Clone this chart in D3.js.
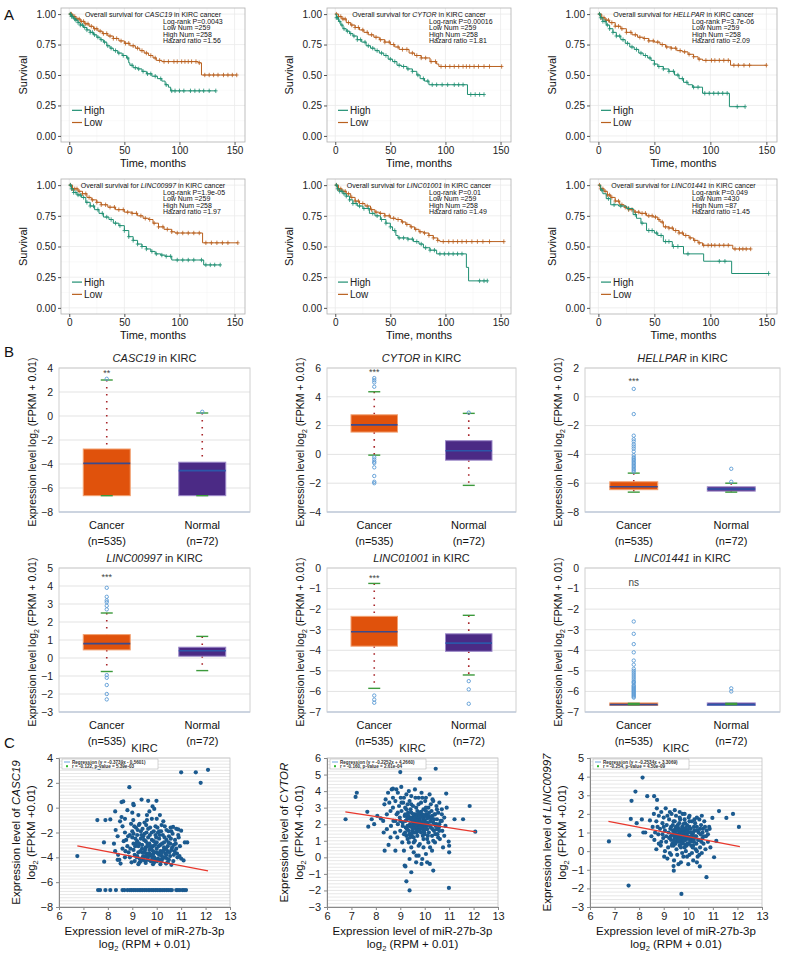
<!DOCTYPE html>
<html><head><meta charset="utf-8">
<script src="https://cdn.jsdelivr.net/npm/d3@7"></script>
<style>body{margin:0;background:#fff}svg text{font-family:"Liberation Sans",Arial,Helvetica,sans-serif}</style>
</head><body>
<svg id="c" width="798" height="954"></svg>
<script>
// ================= DATA =================
const kmGenes = ["CASC19","CYTOR","HELLPAR","LINC00997","LINC01001","LINC01441"];
const kmPvals = ["0.0043","0.00016","3.7e-06","1.9e-05","0.01","0.049"];
const kmLowNum = [259,259,259,259,259,430];
const kmHighNum = [258,258,258,258,258,87];
const kmHR = ["1.56","1.81","2.09","1.97","1.49","1.45"];
const kmXTicks = [0,50,100,150];
const kmYTicks = [0,0.25,0.5,0.75,1];

const kmHigh1 = [[0,1],[2,0.98],[4,0.96],[6,0.95],[8,0.93],[10,0.91],[13,0.89],[16,0.87],[19,0.85],[22,0.83],[25,0.81],[28,0.79],[31,0.77],[34,0.74],[37,0.72],[40,0.70],[44,0.68],[48,0.66],[52,0.64],[54,0.60],[55,0.58],[58,0.56],[62,0.55],[66,0.53],[70,0.51],[75,0.49],[80,0.47],[84,0.45],[87,0.42],[90,0.40],[92,0.37]];
const kmLow1 = [[0,1],[3,0.98],[6,0.96],[10,0.94],[14,0.92],[18,0.90],[22,0.88],[26,0.86],[30,0.84],[35,0.82],[40,0.80],[45,0.78],[50,0.76],[55,0.74],[60,0.72],[64,0.70],[68,0.68],[72,0.66],[76,0.64],[79,0.62],[84,0.61],[117,0.60],[120,0.50]];
const kmHigh2 = [[0,1],[1,0.97],[3,0.94],[5,0.91],[7,0.88],[10,0.86],[13,0.84],[16,0.82],[20,0.79],[24,0.77],[28,0.74],[32,0.72],[36,0.70],[40,0.68],[44,0.66],[48,0.63],[52,0.61],[56,0.58],[60,0.57],[65,0.55],[70,0.53],[74,0.50],[77,0.47],[81,0.45],[85,0.42],[120,0.34]];
const kmLow2 = [[0,1],[3,0.98],[6,0.96],[10,0.93],[14,0.91],[18,0.89],[22,0.87],[26,0.85],[30,0.83],[35,0.81],[40,0.79],[45,0.77],[50,0.75],[54,0.73],[58,0.71],[67,0.68],[72,0.66],[78,0.64],[86,0.61],[92,0.59],[94,0.57]];
const kmHigh3 = [[0,1],[2,0.97],[4,0.94],[7,0.91],[10,0.88],[13,0.85],[16,0.82],[20,0.79],[24,0.76],[28,0.73],[32,0.71],[36,0.68],[40,0.66],[44,0.64],[47,0.62],[50,0.59],[53,0.57],[58,0.55],[63,0.53],[68,0.50],[72,0.47],[76,0.44],[80,0.42],[84,0.40],[93,0.35],[117,0.24]];
const kmLow3 = [[0,1],[3,0.97],[6,0.95],[10,0.93],[15,0.90],[20,0.88],[25,0.85],[30,0.83],[35,0.81],[40,0.80],[45,0.78],[50,0.77],[55,0.75],[60,0.73],[65,0.72],[70,0.70],[75,0.69],[80,0.67],[85,0.65],[89,0.63],[93,0.62],[118,0.58]];
const kmHigh4 = [[0,1],[2,0.97],[4,0.94],[7,0.92],[11,0.90],[15,0.86],[19,0.83],[23,0.80],[27,0.77],[31,0.74],[36,0.72],[40,0.69],[45,0.67],[50,0.63],[54,0.58],[58,0.55],[62,0.52],[66,0.50],[70,0.48],[74,0.46],[78,0.44],[83,0.43],[87,0.42],[93,0.39],[122,0.35]];
const kmLow4 = [[0,1],[3,0.97],[8,0.95],[12,0.93],[16,0.90],[20,0.88],[25,0.86],[29,0.84],[35,0.82],[42,0.80],[50,0.78],[57,0.77],[62,0.75],[67,0.73],[72,0.72],[76,0.69],[81,0.66],[86,0.64],[93,0.62],[96,0.61],[121,0.53]];
const kmHigh5 = [[0,1],[2,0.97],[4,0.95],[7,0.93],[10,0.91],[13,0.88],[16,0.85],[20,0.83],[25,0.81],[31,0.77],[36,0.75],[41,0.72],[46,0.69],[50,0.66],[52,0.63],[55,0.59],[57,0.57],[66,0.56],[71,0.54],[76,0.52],[80,0.49],[86,0.47],[92,0.44],[119,0.33],[121,0.22]];
const kmLow5 = [[0,1],[3,0.97],[6,0.95],[10,0.93],[14,0.90],[18,0.87],[22,0.85],[27,0.83],[32,0.80],[36,0.78],[40,0.77],[45,0.75],[50,0.73],[55,0.72],[60,0.70],[64,0.68],[68,0.66],[72,0.64],[76,0.62],[80,0.61],[85,0.59],[89,0.57],[93,0.55],[95,0.54]];
const kmHigh6 = [[0,1],[2,0.96],[4,0.93],[7,0.89],[11,0.84],[18,0.83],[25,0.81],[31,0.76],[34,0.73],[38,0.69],[43,0.63],[50,0.61],[53,0.59],[58,0.54],[66,0.50],[76,0.44],[94,0.38],[119,0.28]];
const kmLow6 = [[0,1],[2,0.97],[5,0.95],[8,0.92],[11,0.90],[15,0.87],[19,0.84],[23,0.82],[27,0.80],[32,0.78],[37,0.77],[43,0.75],[49,0.74],[53,0.72],[55,0.70],[58,0.66],[63,0.65],[67,0.63],[72,0.61],[76,0.59],[81,0.57],[85,0.55],[89,0.53],[93,0.51],[120,0.48]];
const kmHighEnd = [133,135,131,137,138,152];
const kmLowEnd = [152,151,150,153,153,136];

const cenHigh1 = [1,2,3,5,6,8,10,12,14,16,19,21,23,26,29,32,35,38,42,45,49,53,57,60,63,67,71,74,78,83,88,93,96,100,104,110,114,118,122,127,133];
const cenLow1 = [1,2,4,5,7,9,11,13,15,17,20,23,25,28,31,34,37,40,43,47,51,54,58,62,66,70,74,78,82,86,90,95,98,102,105,108,111,115,118,123,127,131,135,140,144,148,152];
const cenHigh2 = [1,2,4,6,8,11,14,17,20,23,27,30,34,38,42,46,50,54,58,62,66,70,75,80,84,88,92,97,102,108,112,116,123,127,131,135];
const cenLow2 = [1,3,5,7,9,12,15,18,21,25,29,33,37,41,45,49,53,57,61,65,70,74,78,82,87,91,96,100,104,108,112,116,119,122,126,130,135,140,151];
const cenHigh3 = [1,2,4,6,8,10,13,16,19,22,26,30,34,38,42,46,50,54,58,63,67,71,75,79,85,89,95,99,103,107,111,115,124,131];
const cenLow3 = [1,3,5,7,9,12,15,18,21,25,29,33,37,41,45,49,53,57,61,65,69,73,77,81,85,90,96,101,104,108,112,116,121,125,130,135,150];
const cenHigh4 = [1,2,4,6,8,10,13,16,19,22,26,30,34,38,42,46,50,54,58,62,66,70,75,79,84,88,92,98,103,108,113,120,124,128,132,137];
const cenLow4 = [1,3,5,7,9,12,15,18,21,25,29,33,37,41,45,49,53,57,61,65,69,73,77,81,85,89,93,98,103,108,113,118,124,129,134,139,144,153];
const cenHigh5 = [1,2,4,6,8,10,13,16,19,22,26,30,34,38,42,46,50,54,58,62,66,70,74,78,82,86,90,95,99,103,107,111,115,131,135,138];
const cenLow5 = [1,3,5,7,9,12,15,18,21,25,29,33,37,41,45,49,53,57,61,65,69,73,77,81,85,89,93,98,103,107,111,115,119,124,129,134,140,153];
const cenHigh6 = [3,9,14,20,27,33,39,45,48,52,56,60,63,67,71,80,108,113,152];
const cenLow6 = [1,2,4,6,8,10,12,15,18,21,24,27,30,33,36,39,42,45,48,51,54,57,60,63,66,69,72,75,78,82,86,90,94,98,101,104,108,112,116,122,126,129,132,136];

// Box plots (panel B): [lower whisker, Q1, median, Q3, upper whisker]
const boxGenes = ["CASC19","CYTOR","HELLPAR","LINC00997","LINC01001","LINC01441"];
const boxGroups = ["Cancer","Normal"];
const boxGroupN = ["(n=535)","(n=72)"];
const boxYDomain = [[-8,4],[-4,6],[-8,2],[-3,5],[-7,0],[-7,0]];
const boxYTicks = [[-8,-6,-4,-2,0,2,4],[-4,-2,0,2,4,6],[-8,-6,-4,-2,0,2],[-3,-2,-1,0,1,2,3,4,5],[-7,-6,-5,-4,-3,-2,-1,0],[-7,-6,-5,-4,-3,-2,-1,0]];
const cancerStats = [[-6.64,-6.64,-3.95,-2.75,3.0],[-0.05,1.55,2.05,2.75,4.35],[-6.62,-6.45,-6.25,-5.9,-5.3],[-0.75,0.45,0.8,1.3,2.5],[-5.85,-3.8,-3.1,-2.35,-0.75],[-6.64,-6.64,-6.64,-6.6,-6.58]];
const normalStats = [[-6.64,-6.64,-4.55,-3.85,0.25],[-2.15,-0.4,0.25,0.95,2.85],[-6.62,-6.55,-6.4,-6.25,-6.0],[-0.7,0.1,0.4,0.6,1.2],[-5.2,-4.05,-3.65,-3.2,-2.3],[-6.64,-6.64,-6.64,-6.6,-6.58]];
const cancerOutliers = [
  [3.1],
  [4.7,5.0,5.15,5.3,-0.2,-0.35,-0.5,-0.6,-0.9,-1.5,-1.9,-2.0],
  [-5.2,-5.1,-5.0,-4.9,-4.8,-4.7,-4.6,-4.5,-4.4,-4.3,-4.2,-4.05,-3.8,-3.6,-3.45,-3.3,-3.1,-2.95,-2.7,-1.2,0.55],
  [2.7,2.9,3.1,3.2,3.4,3.9,-0.95,-1.1,-1.5,-2.0,-2.3],
  [-6.2,-6.4,-6.55],
  [-2.6,-3.2,-3.7,-4.1,-4.5,-4.7,-4.9,-5.0,-5.1,-5.2,-5.3,-5.4,-5.5,-5.55,-5.6,-5.7,-5.75,-5.8,-5.85,-5.9,-5.95,-6.0,-6.05,-6.1,-6.15,-6.2,-6.25,-6.3]
];
const normalOutliers = [[0.35],[2.9],[-5.9,-5.0],[],[-5.5,-5.9,-6.6],[-5.85,-6.0]];
const boxSig = ["**","***","***","***","***","ns"];
const boxSigY = [3.55,5.7,1.1,4.5,-0.5,-0.75];

// Scatter plots (panel C)
const scGenes = ["CASC19","CYTOR","LINC00997"];
const scYDomain = [[-8,4],[-3,6],[-3,5]];
const scYTicks = [[-8,-6,-4,-2,0,2,4],[-3,-2,-1,0,1,2,3,4,5,6],[-3,-2,-1,0,1,2,3,4,5]];
const scXTicks = [6,7,8,9,10,11,12,13];
const scSlope = [-0.3739,-0.2252,-0.2534];
const scIntercept = [-0.5601,4.2660,3.3069];
const scRegText = ["Regression (y = -0.3739x - 0.5601)","Regression (y = -0.2252x + 4.2660)","Regression (y = -0.2534x + 3.3069)"];
const scRText = ["r = -0.122, p-value = 5.39e-03","r = -0.160, p-value = 2.61e-04","r = -0.254, p-value = 4.50e-09"];
const scLineX = [6.75,12.1];

const casc19Pts = [[6.75,-3.9],[7.64,3.2],[7.57,-1.0],[7.9,-1.0],[8.1,-0.95],[7.84,-2.8],[7.85,-4.35],[8.88,1.65],[11.0,2.85],[11.6,2.85],[12.1,3.05],[11.8,2.0],
[8.56,0.45],[8.63,0.5],[9.04,0.3],[9.06,0.2],[9.38,0.65],[9.65,0.55],[9.99,0.55],[9.83,0.1],[9.9,-0.1],[9.6,-0.6],[9.8,-0.9],[10.13,-0.6],[8.3,-0.3],[8.56,-0.75],[8.7,-0.9],[9.04,-1.0],[9.25,-0.6],[10.27,-1.1],[10.57,-1.6],[10.67,-1.55],[10.88,-1.75],[11.0,-1.85],[11.15,-2.8],[11.25,-2.8],[11.0,-4.1],[11.1,-4.25],
[8.32,-1.8],[8.4,-2.3],[8.25,-2.9],[8.3,-3.5],[8.42,-3.8],[8.47,-4.2],[8.52,-4.5],[8.4,-4.2],
[8.6,-1.5],[8.7,-2.0],[8.75,-2.6],[8.8,-3.1],[8.85,-3.6],[8.9,-4.0],[8.95,-1.3],[9.0,-1.9],[9.0,-2.4],[9.05,-2.9],[9.05,-3.4],[9.1,-3.8],[9.1,-4.3],[9.15,-1.6],[9.2,-2.2],[9.2,-2.7],[9.25,-3.1],[9.25,-3.6],[9.3,-4.1],[9.3,-4.4],[9.35,-1.9],[9.35,-2.5],[9.4,-3.0],[9.4,-3.3],[9.45,-3.9],[9.45,-4.2],[9.5,-1.2],[9.5,-2.1],[9.55,-2.7],[9.55,-3.2],[9.6,-3.7],[9.6,-4.0],[9.65,-1.7],[9.65,-2.4],[9.7,-2.9],[9.7,-3.4],[9.75,-3.8],[9.75,-4.3],[9.8,-2.0],[9.8,-2.6],[9.85,-3.1],[9.85,-3.5],[9.9,-4.0],[9.9,-4.4],[9.95,-1.5],[9.95,-2.2],[10.0,-2.8],[10.0,-3.3],[10.05,-3.7],[10.05,-4.1],[10.1,-1.9],[10.1,-2.5],[10.15,-3.0],[10.15,-3.5],[10.2,-3.9],[10.2,-4.3],[10.25,-2.2],[10.3,-2.8],[10.3,-3.2],[10.35,-3.7],[10.35,-4.0],[10.4,-1.8],[10.4,-2.6],[10.45,-3.1],[10.45,-3.5],[10.5,-4.2],[10.5,-2.3],[10.55,-2.9],[10.6,-3.4],[10.6,-4.6],[10.65,-2.1],[10.7,-3.0],[10.7,-3.8],[10.75,-2.6],[10.8,-3.3],[10.85,-4.0],[10.9,-2.4],[10.95,-3.1],[10.6,-1.9],[10.8,-1.7],[9.0,-0.4],[9.3,-1.3],[9.6,-1.0],[10.2,-1.4],[10.0,-0.9],[9.7,-0.3],[8.8,-0.2],[8.5,-1.1],[8.6,-3.3],[8.7,-4.0],[8.9,-2.2],[9.15,-2.9],[9.45,-2.3],[9.75,-3.1],[10.05,-2.0],[10.25,-3.5],[10.55,-3.9],[9.55,-4.45],[9.25,-4.55],[10.45,-4.4],[9.85,-4.55],[10.15,-4.55],
[9.2,-3.9],[9.5,-3.6],[9.8,-3.9],[10.1,-3.8],[10.4,-3.8],[9.35,-4.3],[9.65,-4.2],[9.95,-4.2],[10.25,-4.1],[9.4,-3.6],[9.7,-3.7],[10.0,-3.6],[10.3,-3.4],[9.55,-3.9],[9.85,-3.8],
[9.05,-2.1],[9.12,-3.1],[9.18,-4.0],[9.22,-1.8],[9.28,-2.9],[9.33,-3.5],[9.37,-2.2],[9.43,-4.0],[9.48,-2.6],[9.52,-3.4],[9.58,-2.0],[9.62,-2.9],[9.68,-3.9],[9.72,-2.2],[9.78,-3.3],[9.82,-4.1],[9.88,-2.7],[9.92,-3.6],[9.98,-2.4],[10.02,-4.3],[10.08,-3.1],[10.12,-2.2],[10.18,-3.7],[10.22,-2.9],[10.28,-4.0],[10.32,-2.4],[10.38,-3.3],[10.42,-4.1],[10.48,-2.8],[10.52,-3.6],[10.58,-2.5],[10.63,-3.2],[10.68,-4.3],[10.73,-3.5],[10.78,-2.9],[10.83,-3.7],[10.88,-2.2],[10.93,-3.9],[8.65,-2.7],[8.72,-3.5],[8.83,-2.3],[8.92,-3.3],[8.97,-4.4],[9.08,-1.5],[9.13,-2.5],[9.27,-1.4],[9.42,-1.7],[9.57,-1.4],[9.73,-1.6],[9.88,-1.9],[10.03,-1.6],[10.18,-1.9],[10.33,-1.5],[10.48,-1.9],[9.53,-4.3],[9.83,-4.3],[10.13,-4.2],[10.38,-4.5],[9.63,-3.1],[9.93,-3.0],
[7.6,-6.64],[7.68,-6.64],[7.9,-6.64],[8.1,-6.64],[8.33,-6.64],[8.6,-6.64],[8.68,-6.64],[8.8,-6.64],[8.9,-6.64],[8.97,-6.64],[9.05,-6.64],[9.12,-6.64],[9.2,-6.64],[9.28,-6.64],[9.35,-6.64],[9.42,-6.64],[9.5,-6.64],[9.57,-6.64],[9.65,-6.64],[9.72,-6.64],[9.8,-6.64],[9.87,-6.64],[9.95,-6.64],[10.02,-6.64],[10.1,-6.64],[10.17,-6.64],[10.25,-6.64],[10.32,-6.64],[10.4,-6.64],[10.47,-6.64],[10.55,-6.64],[10.62,-6.64],[10.8,-6.64],[10.87,-6.64],[10.95,-6.64],[11.05,-6.64],[11.12,-6.64],[11.2,-6.64]];

const cytorPts = [[6.76,2.3],[7.17,3.65],[7.22,3.9],[7.65,2.75],[7.69,1.85],[7.83,2.3],[7.93,2.0],[8.06,2.5],[8.2,2.35],[8.32,1.5],[8.52,0.75],[8.36,0.4],[8.8,0.4],[9.0,5.15],[9.8,4.75],[10.45,5.35],[8.7,4.15],[8.84,4.1],[9.04,4.25],[9.18,-0.5],[9.21,-0.55],[9.25,-1.45],[9.38,-2.0],[9.45,-0.9],[10.99,-1.85],[10.88,3.85],[11.84,3.1],[11.57,2.3],[12.07,1.55],[11.22,2.3],[10.98,0.95],[11.0,0.7],[11.0,0.3],[10.35,-0.8],[10.21,-0.4],[9.87,-0.4],[9.66,0.1],[9.38,-0.1],
[8.55,3.3],[8.6,2.8],[8.62,1.9],[8.7,3.0],[8.72,2.2],[8.78,1.5],[8.8,3.4],[8.85,2.6],[8.88,1.2],[8.9,2.0],[8.95,3.1],[8.98,2.4],[9.0,1.6],[9.02,3.6],[9.05,2.8],[9.08,0.9],[9.1,2.1],[9.12,3.3],[9.15,1.4],[9.18,2.5],[9.2,3.0],[9.22,1.8],[9.25,3.8],[9.28,2.3],[9.3,1.1],[9.32,2.7],[9.35,1.6],[9.38,3.4],[9.4,2.0],[9.42,2.9],[9.45,0.6],[9.47,1.3],[9.5,2.4],[9.52,3.1],[9.55,1.8],[9.57,2.6],[9.6,1.0],[9.62,3.6],[9.65,2.1],[9.67,1.5],[9.7,2.8],[9.72,1.9],[9.75,3.2],[9.77,2.3],[9.8,0.8],[9.82,1.7],[9.85,2.5],[9.87,3.9],[9.9,2.0],[9.92,1.3],[9.95,2.9],[9.97,1.6],[10.0,2.2],[10.02,3.4],[10.05,1.9],[10.07,2.6],[10.1,1.1],[10.12,2.0],[10.15,3.0],[10.17,1.5],[10.2,2.4],[10.22,0.6],[10.25,1.8],[10.28,2.8],[10.3,1.3],[10.32,3.5],[10.35,2.1],[10.38,1.6],[10.4,2.6],[10.42,0.9],[10.45,1.9],[10.48,3.1],[10.5,2.3],[10.52,1.4],[10.55,2.7],[10.58,1.8],[10.6,3.3],[10.62,1.1],[10.65,2.2],[10.7,2.9],[10.72,1.6],[10.75,0.6],[10.8,2.4],[10.85,1.9],[10.9,3.0],[9.35,4.0],[9.6,4.1],[9.9,3.6],[10.2,3.8],[9.15,0.4],[9.55,0.3],[9.75,0.1],[10.05,0.2],[10.3,0.4],[9.65,-0.3],[9.9,-0.1],[10.1,-0.3],[9.3,1.9],[9.5,1.6],[9.7,2.4],[9.8,2.0],[9.9,2.6],[10.0,1.4],[9.6,2.2],[9.45,2.7],[9.75,1.8],[9.95,2.3],[10.15,2.5],[9.85,1.5],[9.55,2.0],[10.05,2.8],[9.65,1.7],[9.4,1.2],[10.25,2.2],[9.95,1.9],[9.7,1.3],[10.1,1.7],[8.4,3.5],[8.45,2.6],[8.5,3.9],[8.65,4.1],[8.7,3.6],[8.9,3.9],[8.35,3.2],[8.3,2.2],[8.45,1.7],[8.6,1.2],[9.7,2.05],[9.8,2.25],[9.6,1.85],[9.9,1.75],[10.0,2.05],[9.5,2.15],[9.75,2.55],[10.1,2.35],[9.85,2.75],[9.65,2.6],[10.4,2.0],[10.6,1.6],[10.3,2.5],[9.4,2.4],[9.2,2.6],[9.3,3.2],[10.5,2.9],[10.7,2.2],[10.8,1.3],[9.95,1.1],[9.55,1.2],[9.25,1.3],
[9.22,2.2],[9.28,1.7],[9.33,2.5],[9.37,1.4],[9.43,2.3],[9.48,1.9],[9.53,2.6],[9.58,1.5],[9.63,2.4],[9.68,2.0],[9.73,1.6],[9.78,2.7],[9.83,2.1],[9.88,1.8],[9.93,2.4],[9.98,1.5],[10.03,2.5],[10.08,2.1],[10.13,1.3],[10.18,2.7],[10.23,1.9],[10.28,2.4],[10.33,1.7],[10.38,2.3],[10.43,1.4],[10.48,2.0],[9.25,2.9],[9.45,3.2],[9.65,3.0],[9.85,3.3],[10.05,3.0],[10.25,3.2],[9.35,0.9],[9.55,0.9],[9.75,0.7],[9.95,0.6],[10.15,0.9],[10.35,1.0],[9.1,1.9],[9.0,2.2],[8.9,2.7],[8.8,2.2],[10.6,2.0],[10.7,2.6],[10.55,1.2],[9.72,2.15],[9.82,1.85],[9.62,1.95],[9.92,2.15],[10.02,1.75],[9.52,1.75],[9.77,2.35],[9.87,2.45],[9.67,2.25],[10.12,1.95],[9.42,1.85],[9.57,2.35],[10.22,2.15],[9.97,2.55],[9.47,1.45],[9.2,1.5],[9.3,2.4],[10.42,2.6],[10.5,1.7],[9.15,3.6],[9.45,3.7],[9.75,3.6],[10.05,3.6],[10.35,3.4],[9.05,3.3]];

const linc00997Pts = [[6.77,0.52],[7.57,-1.85],[7.6,0.85],[7.66,1.73],[7.69,2.7],[7.85,3.2],[8.14,3.95],[8.33,2.95],[7.9,1.5],[8.11,1.7],[8.17,1.0],[8.25,1.0],[8.61,2.95],[8.73,2.75],[8.44,1.65],[9.72,-2.3],[9.41,-1.05],[10.74,-1.4],[10.47,-0.82],[11.25,2.15],[11.55,1.78],[11.82,2.0],[12.06,1.3],[11.05,-0.33],[10.98,1.78],[10.87,1.2],[11.14,0.55],
[8.55,1.3],[8.6,2.0],[8.62,0.6],[8.7,1.6],[8.72,2.3],[8.78,0.9],[8.8,1.9],[8.85,1.2],[8.88,0.3],[8.9,2.1],[8.95,1.5],[8.98,0.7],[9.0,1.8],[9.02,-0.3],[9.05,1.1],[9.08,2.3],[9.1,0.5],[9.12,1.4],[9.15,1.9],[9.18,0.2],[9.2,1.0],[9.22,1.7],[9.25,-0.1],[9.28,0.8],[9.3,1.3],[9.32,2.0],[9.35,0.4],[9.38,1.1],[9.4,1.6],[9.42,-0.5],[9.45,0.7],[9.47,1.2],[9.5,1.9],[9.52,0.1],[9.55,0.9],[9.57,1.4],[9.6,-0.7],[9.62,0.5],[9.65,1.0],[9.67,1.7],[9.7,0.2],[9.72,0.8],[9.75,1.3],[9.77,2.0],[9.8,-0.3],[9.82,0.6],[9.85,1.1],[9.87,1.5],[9.9,0.0],[9.92,0.9],[9.95,1.4],[9.97,0.4],[10.0,1.0],[10.02,1.8],[10.05,-0.2],[10.07,0.7],[10.1,1.2],[10.12,0.3],[10.15,1.6],[10.17,0.9],[10.2,-0.5],[10.22,0.5],[10.25,1.1],[10.28,1.5],[10.3,0.1],[10.32,0.8],[10.35,1.3],[10.38,-0.3],[10.4,0.6],[10.42,1.0],[10.45,1.7],[10.48,0.2],[10.5,0.9],[10.52,1.4],[10.55,-0.1],[10.58,0.7],[10.6,1.2],[10.62,0.4],[10.65,1.6],[10.7,0.1],[10.72,0.8],[10.75,1.1],[10.8,0.5],[10.85,1.3],[10.9,0.2],[9.3,0.6],[9.5,0.5],[9.6,1.2],[9.7,0.6],[9.8,0.9],[9.9,0.6],[10.0,0.4],[10.1,0.8],[10.2,1.0],[9.45,1.0],[9.65,0.3],[9.85,0.2],[10.05,1.3],[9.75,1.0],[9.55,0.7],[9.95,1.1],[10.15,0.6],[9.35,0.9],[10.25,0.7],[9.65,0.8],[9.85,0.8],[8.65,1.0],[8.75,1.3],[8.95,0.9],[9.05,0.0],[9.15,-0.4],[9.25,2.1],[9.45,2.2],[9.65,2.1],[9.85,2.0],[10.05,1.9],[10.35,1.8],[10.55,1.9],[9.4,-0.8],[9.7,-0.6],[10.0,-0.7],[10.35,-0.6],[9.6,0.85],[9.75,0.45],[9.9,1.25],[10.1,0.55],[9.5,1.3],[9.8,1.45],[10.0,0.75],[9.7,1.1],[10.2,0.3],[9.4,0.3],[8.8,0.4],[8.5,0.8],[8.7,0.1],
[9.22,0.7],[9.27,1.2],[9.33,0.3],[9.37,1.4],[9.43,0.8],[9.48,0.4],[9.53,1.1],[9.58,0.6],[9.63,1.5],[9.68,0.9],[9.73,0.4],[9.78,1.2],[9.83,0.7],[9.88,1.0],[9.93,0.3],[9.98,0.8],[10.03,1.2],[10.08,0.5],[10.13,1.0],[10.18,0.2],[10.23,1.3],[10.28,0.8],[10.33,0.4],[10.38,1.1],[10.43,0.6],[10.48,1.2],[10.53,0.5],[10.58,1.0],[10.63,0.8],[10.68,1.3],[9.45,1.6],[9.65,1.8],[9.85,1.7],[10.05,1.6],[10.25,1.7],[9.55,-0.2],[9.75,-0.1],[9.95,-0.3],[10.15,-0.1],[10.35,0.0],[9.3,-0.2],[10.45,-0.2],[9.72,0.75],[9.82,0.55],[9.62,0.65],[9.92,0.85],[10.02,0.65],[9.52,0.85],[9.77,0.95],[9.87,0.35],[10.12,0.75],[9.42,0.55],[10.22,0.55],[9.67,1.15],[9.97,1.05],[9.57,1.3],[9.1,0.8],[9.0,1.3],[8.9,0.5],[10.8,0.9]];
const scPts = [casc19Pts, cytorPts, linc00997Pts];

// ================= LAYOUT =================
const svg = d3.select('#c');
const FONT='"Liberation Sans",Arial,sans-serif';
const kmHighAll=[kmHigh1,kmHigh2,kmHigh3,kmHigh4,kmHigh5,kmHigh6];
const kmLowAll=[kmLow1,kmLow2,kmLow3,kmLow4,kmLow5,kmLow6];
const cenHighAll=[cenHigh1,cenHigh2,cenHigh3,cenHigh4,cenHigh5,cenHigh6];
const cenLowAll=[cenLow1,cenLow2,cenLow3,cenLow4,cenLow5,cenLow6];
const kmCols=[{L:61,R:245},{L:327,R:511},{L:590,R:777}];
const kmRows=[{T:8,B:142},{T:179,B:314}];
const COL_HIGH="#1f8f72", COL_LOW="#b9601e";

function italicLabel(sel, gene, rest, pre){
  if(pre) sel.append('tspan').text(pre);
  sel.append('tspan').attr('font-style','italic').text(gene);
  sel.append('tspan').text(rest);
}
function stepAt(steps,t){let v=steps[0][1];for(const s of steps){if(s[0]<=t)v=s[1];else break;}return v;}

function drawKM(i){
  const col=kmCols[i%3], row=kmRows[Math.floor(i/3)];
  const x=d3.scaleLinear().domain([-7.5,159.5]).range([col.L,col.R]);
  const y=d3.scaleLinear().domain([-0.05,1.05]).range([row.B,row.T]);
  const g=svg.append('g');
  [25,75,125].forEach(v=>g.append('line').attr('x1',x(v)).attr('x2',x(v)).attr('y1',row.T).attr('y2',row.B).attr('stroke','#f4f4f4').attr('stroke-width',0.5));
  [0.125,0.375,0.625,0.875].forEach(v=>g.append('line').attr('x1',col.L).attr('x2',col.R).attr('y1',y(v)).attr('y2',y(v)).attr('stroke','#f4f4f4').attr('stroke-width',0.5));
  kmXTicks.forEach(v=>g.append('line').attr('x1',x(v)).attr('x2',x(v)).attr('y1',row.T).attr('y2',row.B).attr('stroke','#ebebeb').attr('stroke-width',0.8));
  kmYTicks.forEach(v=>g.append('line').attr('x1',col.L).attr('x2',col.R).attr('y1',y(v)).attr('y2',y(v)).attr('stroke','#ebebeb').attr('stroke-width',0.8));
  const line=d3.line().x(d=>x(d[0])).y(d=>y(d[1])).curve(d3.curveStepAfter);
  [[kmLowAll[i],kmLowEnd[i],cenLowAll[i],COL_LOW],[kmHighAll[i],kmHighEnd[i],cenHighAll[i],COL_HIGH]].forEach(([st,end,cen,c])=>{
    const pts=st.concat([[end,st[st.length-1][1]]]);
    g.append('path').attr('d',line(pts)).attr('fill','none').attr('stroke',c).attr('stroke-width',1);
    cen.filter(t=>t<=end).forEach(t=>{
      const cx=x(t), cy=y(stepAt(st,t));
      g.append('line').attr('x1',cx).attr('x2',cx).attr('y1',cy-2.2).attr('y2',cy+2.2).attr('stroke',c).attr('stroke-width',0.8);
      g.append('line').attr('x1',cx-1.8).attr('x2',cx+1.8).attr('y1',cy).attr('y2',cy).attr('stroke',c).attr('stroke-width',0.8);
    });
  });
  g.append('rect').attr('x',col.L).attr('y',row.T).attr('width',col.R-col.L).attr('height',row.B-row.T).attr('fill','none').attr('stroke','#b0b0b0').attr('stroke-width',0.8);
  const xa=g.append('g').attr('transform',`translate(0,${row.B})`).call(d3.axisBottom(x).tickValues(kmXTicks).tickSize(3).tickPadding(2));
  const ya=g.append('g').attr('transform',`translate(${col.L},0)`).call(d3.axisLeft(y).tickValues(kmYTicks).tickFormat(d3.format('.2f')).tickSize(3).tickPadding(2));
  [xa,ya].forEach(a=>{a.select('.domain').remove();a.selectAll('line').attr('stroke','#555');a.selectAll('text').attr('font-size',10).attr('fill','#222').attr('font-family',FONT);});
  g.append('text').attr('x',(col.L+col.R)/2).attr('y',row.B+25).attr('text-anchor','middle').attr('font-size',11).attr('fill','#111').text('Time, months');
  g.append('text').attr('transform',`translate(${col.L-34},${(row.T+row.B)/2}) rotate(-90)`).attr('text-anchor','middle').attr('font-size',11).attr('fill','#111').text('Survival');
  const t=g.append('text').attr('x',(col.L+col.R)/2).attr('y',row.T+8.5).attr('text-anchor','middle').attr('font-size',7).attr('fill','#111');
  italicLabel(t,kmGenes[i],' in KIRC cancer','Overall survival for ');
  const info=[`Log-rank P=${kmPvals[i]}`,`Low Num =${kmLowNum[i]}`,`High Num =${kmHighNum[i]}`,`Hazard ratio =${kmHR[i]}`];
  info.forEach((s,k)=>g.append('text').attr('x',col.L+102).attr('y',row.T+15.5+k*6.6).attr('font-size',7).attr('fill','#111').text(s));
  [['High',COL_HIGH,0.21],['Low',COL_LOW,0.11]].forEach(([lab,c,v])=>{
    g.append('line').attr('x1',col.L+11).attr('x2',col.L+21).attr('y1',y(v)).attr('y2',y(v)).attr('stroke',c).attr('stroke-width',1.2);
    g.append('text').attr('x',col.L+23).attr('y',y(v)+3.5).attr('font-size',10).attr('fill','#222').text(lab);
  });
}

const boxCols=[{L:59,R:250},{L:327,R:516},{L:585,R:780}];
const boxRows=[{T:368,B:512},{T:568,B:712}];
function drawBox(i){
  const col=boxCols[i%3], row=boxRows[Math.floor(i/3)];
  const y=d3.scaleLinear().domain(boxYDomain[i]).range([row.B,row.T]);
  const x=d3.scalePoint().domain(boxGroups).range([col.L,col.R]).padding(0.5);
  const bw=(col.R-col.L)*0.246;
  const g=svg.append('g');
  boxYTicks[i].forEach(v=>g.append('line').attr('x1',col.L).attr('x2',col.R).attr('y1',y(v)).attr('y2',y(v)).attr('stroke','#e3e3e3').attr('stroke-width',1));
  g.append('rect').attr('x',col.L).attr('y',row.T).attr('width',col.R-col.L).attr('height',row.B-row.T).attr('fill','none').attr('stroke','#d0d0d0').attr('stroke-width',1);
  g.append('line').attr('x1',col.L).attr('x2',col.R).attr('y1',row.B).attr('y2',row.B).attr('stroke','#b8c8e0').attr('stroke-width',1.2);
  const ya=g.append('g').attr('transform',`translate(${col.L},0)`).call(d3.axisLeft(y).tickValues(boxYTicks[i]).tickSize(0).tickPadding(6).tickFormat(d3.format('d')));
  ya.select('.domain').remove();
  ya.selectAll('text').attr('font-size',10.5).attr('fill','#222').attr('font-family',FONT);
  const specs=[[cancerStats[i],cancerOutliers[i],'#e0520c','#f2a070','#3b4a8e'],[normalStats[i],normalOutliers[i],'#4b2a85','#9b88c8','#2c56a8']];
  specs.forEach(([s,out,fill,stroke,med],k)=>{
    const cx=x(boxGroups[k]);
    g.append('line').attr('x1',cx).attr('x2',cx).attr('y1',y(s[4])).attr('y2',y(s[3])).attr('stroke','#a8262a').attr('stroke-width',1.6).attr('stroke-dasharray','1.6,5.4');
    g.append('line').attr('x1',cx).attr('x2',cx).attr('y1',y(s[1])).attr('y2',y(s[0])).attr('stroke','#a8262a').attr('stroke-width',1.6).attr('stroke-dasharray','1.6,5.4');
    const h=Math.max(y(s[1])-y(s[3]),2.5);
    g.append('rect').attr('x',cx-bw/2).attr('y',y(s[3])-(h-(y(s[1])-y(s[3])))/2).attr('width',bw).attr('height',h).attr('fill',fill).attr('stroke',stroke).attr('stroke-width',1);
    g.append('line').attr('x1',cx-bw/2).attr('x2',cx+bw/2).attr('y1',y(s[2])).attr('y2',y(s[2])).attr('stroke',med).attr('stroke-width',1.6);
    [s[0],s[4]].forEach(v=>g.append('line').attr('x1',cx-6).attr('x2',cx+6).attr('y1',y(v)).attr('y2',y(v)).attr('stroke','#3c9a3c').attr('stroke-width',1.4));
    out.forEach(v=>g.append('circle').attr('cx',cx).attr('cy',y(v)).attr('r',1.7).attr('fill','none').attr('stroke','#5b9bd5').attr('stroke-width',0.9));
    g.append('text').attr('x',cx).attr('y',row.B+17).attr('text-anchor','middle').attr('font-size',11).attr('fill','#111').text(boxGroups[k]);
    g.append('text').attr('x',cx).attr('y',row.B+33).attr('text-anchor','middle').attr('font-size',11).attr('fill','#111').text(boxGroupN[k]);
  });
  g.append('text').attr('x',x('Cancer')).attr('y',y(boxSigY[i])+3).attr('text-anchor','middle').attr('font-size',boxSig[i]==='ns'?10:9).attr('fill','#444').text(boxSig[i]);
  const t=g.append('text').attr('x',(col.L+col.R)/2).attr('y',row.T-6).attr('text-anchor','middle').attr('font-size',11).attr('fill','#222');
  italicLabel(t,boxGenes[i],' in KIRC');
  const yl=g.append('text').attr('transform',`translate(${col.L-23},${(row.T+row.B)/2+2}) rotate(-90)`).attr('text-anchor','middle').attr('font-size',10.5).attr('fill','#111');
  yl.append('tspan').text('Expression level log');
  yl.append('tspan').attr('font-size',7).attr('dy',3).text('2');
  yl.append('tspan').attr('dy',-3).text(' (FPKM + 0.01)');
}

const scCols=[{L:59,R:230},{L:327,R:498},{L:590,R:762}];
const scRow={T:758,B:907};
const scGridStep=[0.25,0.2,0.2];
function drawScatter(i){
  const col=scCols[i];
  const x=d3.scaleLinear().domain([6,13]).range([col.L,col.R]);
  const y=d3.scaleLinear().domain(scYDomain[i]).range([scRow.B,scRow.T]);
  const g=svg.append('g');
  const d=scYDomain[i];
  for(let v=d[0];v<=d[1]+1e-9;v+=scGridStep[i]) g.append('line').attr('x1',col.L).attr('x2',col.R).attr('y1',y(v)).attr('y2',y(v)).attr('stroke','#dcdcdc').attr('stroke-width',0.7);
  g.append('rect').attr('x',col.L).attr('y',scRow.T).attr('width',col.R-col.L).attr('height',scRow.B-scRow.T).attr('fill','none').attr('stroke','#c4c4c4').attr('stroke-width',0.8);
  const xa=g.append('g').attr('transform',`translate(0,${scRow.B})`).call(d3.axisBottom(x).tickValues(scXTicks).tickFormat(d3.format('d')).tickSize(3).tickPadding(2));
  const ya=g.append('g').attr('transform',`translate(${col.L},0)`).call(d3.axisLeft(y).tickValues(scYTicks[i]).tickFormat(d3.format('d')).tickSize(3).tickPadding(3));
  [xa,ya].forEach(a=>{a.select('.domain').attr('stroke','#888');a.selectAll('line').attr('stroke','#888');a.selectAll('text').attr('font-size',11).attr('fill','#222').attr('font-family',FONT);});
  g.selectAll('circle.pt').data(scPts[i]).join('circle').attr('class','pt').attr('cx',p=>x(p[0])).attr('cy',p=>y(p[1])).attr('r',2.1).attr('fill','#1b5a8f');
  g.append('line').attr('x1',x(scLineX[0])).attr('x2',x(scLineX[1])).attr('y1',y(scSlope[i]*scLineX[0]+scIntercept[i])).attr('y2',y(scSlope[i]*scLineX[1]+scIntercept[i])).attr('stroke','#e8372c').attr('stroke-width',1.2);
  const lx=col.L+3, ly=scRow.T+1;
  g.append('rect').attr('x',lx).attr('y',ly).attr('width',96).attr('height',10).attr('fill','#fff').attr('stroke','#aaa').attr('stroke-width',0.5);
  g.append('line').attr('x1',lx+2).attr('x2',lx+8).attr('y1',ly+3).attr('y2',ly+3).attr('stroke','#4a90d9').attr('stroke-width',0.8);
  g.append('text').attr('x',lx+10).attr('y',ly+4.6).attr('font-size',4.6).attr('font-weight','bold').attr('fill','#333').text(scRegText[i]);
  g.append('rect').attr('x',lx+4).attr('y',ly+6.2).attr('width',2).attr('height',2).attr('fill','#2eb82e');
  g.append('text').attr('x',lx+10).attr('y',ly+8.8).attr('font-size',4.6).attr('font-weight','bold').attr('fill','#333').text(scRText[i]);
  g.append('text').attr('x',(col.L+col.R)/2).attr('y',scRow.T-6).attr('text-anchor','middle').attr('font-size',11).attr('fill','#222').text('KIRC');
  const my=(scRow.T+scRow.B)/2;
  const t1=g.append('text').attr('transform',`translate(${col.L-39},${my}) rotate(-90)`).attr('text-anchor','middle').attr('font-size',11.5).attr('fill','#111');
  italicLabel(t1,scGenes[i],'','Expression level of ');
  const t2=g.append('text').attr('transform',`translate(${col.L-24},${my}) rotate(-90)`).attr('text-anchor','middle').attr('font-size',11.5).attr('fill','#111');
  t2.append('tspan').text('log');t2.append('tspan').attr('font-size',7.5).attr('dy',3).text('2');t2.append('tspan').attr('dy',-3).text(' (FPKM +0.01)');
  g.append('text').attr('x',(col.L+col.R)/2).attr('y',scRow.B+28).attr('text-anchor','middle').attr('font-size',11.5).attr('fill','#111').text('Expression level of miR-27b-3p');
  const t3=g.append('text').attr('x',(col.L+col.R)/2).attr('y',scRow.B+41).attr('text-anchor','middle').attr('font-size',11.5).attr('fill','#111');
  t3.append('tspan').text('log');t3.append('tspan').attr('font-size',7.5).attr('dy',2.5).text('2');t3.append('tspan').attr('dy',-2.5).text(' (RPM + 0.01)');
}

for(let i=0;i<6;i++) drawKM(i);
for(let i=0;i<6;i++) drawBox(i);
for(let i=0;i<3;i++) drawScatter(i);
[['A',4,20],['B',4,357],['C',4,748]].forEach(([l,xx,yy])=>svg.append('text').attr('x',xx).attr('y',yy).attr('font-size',15).attr('fill','#111').text(l));
</script>
</body></html>
